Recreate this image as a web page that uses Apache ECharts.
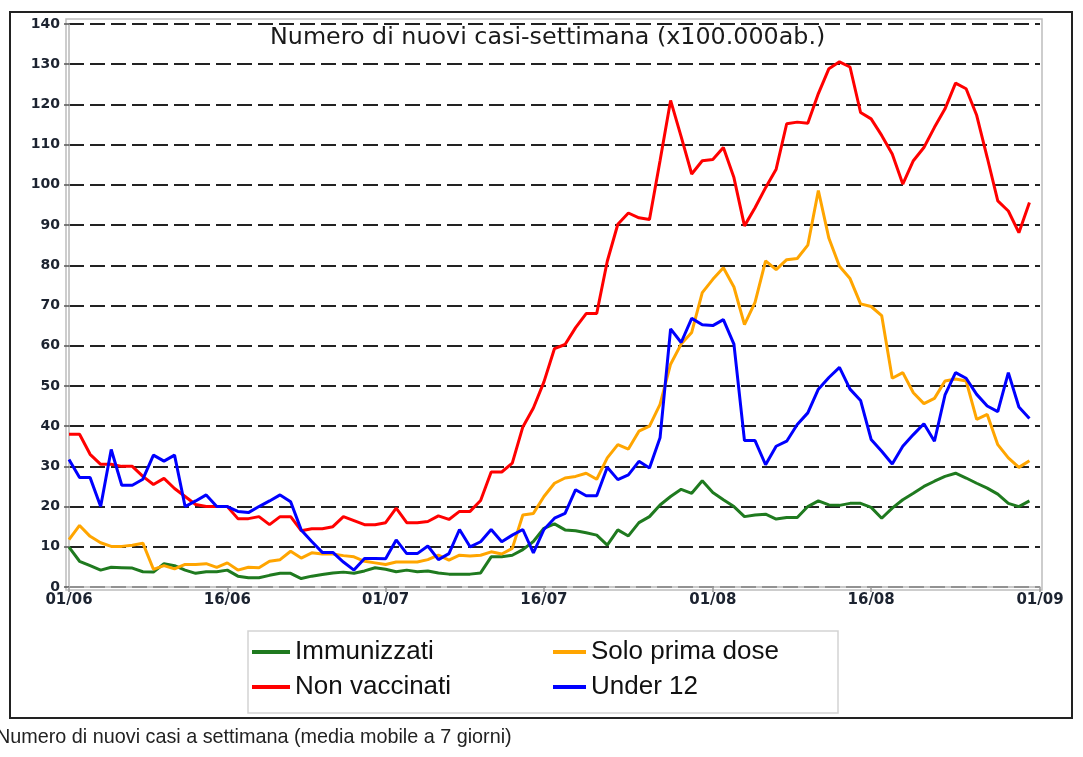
<!DOCTYPE html>
<html>
<head>
<meta charset="utf-8">
<script src="https://cdn.jsdelivr.net/npm/echarts@6.0.0/dist/echarts.min.js"></script>
<style>
html,body{margin:0;padding:0;background:#fff;}
#chart{width:1083px;height:757px;}
</style>
</head>
<body>
<div id="chart"></div>
<script>
// x tick positions (days since 01/06) and labels
const tickDays = [0, 15, 30, 45, 61, 76, 92];
const tickLabels = ['01/06', '16/06', '01/07', '16/07', '01/08', '16/08', '01/09'];
const yTicks = [0, 140, 10]; // min, max, step

// daily values from 01/06 to 31/08
const immunizzati = [
  9.9, 6.4, 5.3, 4.2, 4.9, 4.8, 4.7, 3.8, 3.7, 5.8, 5.3, 4.2, 3.4, 3.8, 3.8, 4.2, 2.7, 2.3, 2.3, 2.9, 3.4, 3.4, 2.1, 2.7, 3.1, 3.5, 3.7, 3.4, 4.0, 4.8, 4.4,
  3.8, 4.2, 3.8, 4.0, 3.5, 3.2, 3.2, 3.2, 3.5, 7.5, 7.5, 7.9, 9.3, 11.3, 14.6, 15.7, 14.2, 14.0, 13.5, 12.9, 10.4, 14.2, 12.7, 16.0, 17.5, 20.4, 22.5, 24.3, 23.3, 26.4, 23.5,
  21.7, 20.0, 17.5, 17.9, 18.1, 16.9, 17.3, 17.3, 20.0, 21.4, 20.4, 20.3, 20.8, 20.8, 19.8, 17.1, 19.6, 21.7, 23.3, 25.0, 26.3, 27.5, 28.3, 27.1, 25.8, 24.6, 23.1, 20.8, 20.0, 21.4
];
const soloPrimaDose = [
  11.8, 15.3, 12.6, 11.0, 10.1, 10.1, 10.4, 10.9, 4.4, 5.3, 4.5, 5.6, 5.6, 5.8, 4.9, 6.0, 4.2, 4.9, 4.8, 6.4, 6.8, 8.9, 7.2, 8.5, 8.2, 8.2, 7.8, 7.5, 6.4, 6.0, 5.6,
  6.2, 6.2, 6.2, 6.8, 7.9, 6.7, 7.9, 7.7, 7.9, 8.75, 8.2, 9.6, 17.9, 18.3, 22.5, 25.8, 27.1, 27.5, 28.3, 26.8, 32.1, 35.4, 34.3, 38.75, 40.0, 45.4, 55.4, 60.4, 63.3, 73.2, 76.5,
  79.4, 74.6, 65.25, 70.8, 81.1, 78.9, 81.4, 81.7, 85.0, 98.6, 86.7, 79.75, 76.7, 70.4, 69.75, 67.5, 51.9, 53.3, 48.3, 45.6, 46.9, 51.25, 51.7, 51.25, 41.7, 42.9, 35.4, 32.1, 29.75, 31.4
];
const nonVaccinati = [
  38, 38, 33, 30.5, 30.5, 30, 30, 27.5, 25.5, 27, 24.5, 22.5, 20.5, 20, 20, 20, 17, 17, 17.5, 15.5, 17.5, 17.5, 14, 14.5, 14.5, 15, 17.5, 16.5, 15.5, 15.5, 16,
  19.6, 16, 16, 16.3, 17.7, 16.8, 18.8, 18.8, 21.5, 28.6, 28.6, 30.8, 39.8, 44.5, 51, 59.3, 60.3, 64.5, 68, 68, 81, 90.2, 93, 91.8, 91.4, 106, 121, 112, 102.7, 106, 106.3,
  109.3, 101.8, 89.8, 94.3, 99.3, 103.9, 115.2, 115.6, 115.3, 122.7, 128.9, 130.6, 129.3, 118, 116.4, 112.3, 107.7, 100.2, 106, 109.3, 114.3, 118.9, 125.3, 123.9, 117.3, 106.8, 96, 93.5, 88.1, 95.6
];
const under12 = [
  31.7, 27.2, 27.2, 20, 34.2, 25.3, 25.3, 26.8, 32.8, 31.3, 32.8, 20, 21.4, 22.9, 20, 20, 18.8, 18.5, 20, 21.4, 22.9, 21.2, 14.2, 11.3, 8.6, 8.6, 6.2, 4.2, 7.1, 7.1, 7.0,
  11.7, 8.3, 8.3, 10.2, 6.8, 8.3, 14.3, 10, 11.25, 14.3, 11.25, 12.9, 14.3, 8.5, 14.3, 17.1, 18.3, 24.2, 22.7, 22.7, 29.8, 26.7, 27.9, 31.25, 29.6, 37.1, 64.2, 60.8, 66.8, 65.2, 65,
  66.5, 60.4, 36.4, 36.4, 30.4, 35, 36.25, 40.4, 43.3, 49.2, 52.1, 54.6, 49.2, 46.4, 36.7, 33.75, 30.6, 35, 37.9, 40.6, 36.25, 47.75, 53.3, 51.9, 47.9, 45, 43.6, 53.3, 44.75, 41.9
];

const seriesNames = ['Immunizzati', 'Solo prima dose', 'Non vaccinati', 'Under 12'];
const seriesColors = ['#1f7a1f', '#ffa500', '#ff0000', '#0000ff'];
const seriesValues = [immunizzati, soloPrimaDose, nonVaccinati, under12];

const chart = echarts.init(document.getElementById('chart'), null, {renderer: 'canvas'});

const series = seriesNames.map((name, k) => ({
  name: name,
  type: 'line',
  data: seriesValues[k].map((v, i) => [i, v]),
  showSymbol: false,
  lineStyle: {color: seriesColors[k], width: 3},
  itemStyle: {color: seriesColors[k]},
  animation: false,
  z: 3
}));

const legendText = {fontFamily: 'Liberation Sans', fontSize: 26, color: '#111', lineHeight: 30};

chart.setOption({
  animation: false,
  backgroundColor: '#fff',
  title: {
    text: 'Numero di nuovi casi-settimana (x100.000ab.)',
    left: 265, top: 21,
    textStyle: {fontFamily: 'DejaVu Sans', fontSize: 23.8, fontWeight: 'normal', color: '#1a1a1a'}
  },
  grid: {left: 69, right: 43, top: 24, bottom: 170},
  xAxis: {
    type: 'value', min: tickDays[0], max: tickDays[tickDays.length - 1],
    offset: 3,
    splitLine: {show: false},
    axisLine: {show: true, lineStyle: {color: '#b8b8b8', width: 1.5}},
    axisTick: {show: true, customValues: tickDays, length: 5, lineStyle: {color: '#999', width: 1.5}},
    axisLabel: {
      customValues: tickDays, showMinLabel: true, showMaxLabel: true,
      formatter: v => tickLabels[tickDays.indexOf(v)],
      margin: 3, fontFamily: 'DejaVu Sans', fontWeight: 'bold', fontSize: 15, color: '#1c2330'
    }
  },
  yAxis: {
    type: 'value', min: yTicks[0], max: yTicks[1], interval: yTicks[2],
    offset: 2,
    axisLine: {show: true, lineStyle: {color: '#b8b8b8', width: 1.5}},
    axisTick: {show: true, length: 5, lineStyle: {color: '#555', width: 1.5}},
    axisLabel: {margin: 7, fontFamily: 'DejaVu Sans', fontWeight: 'bold', fontSize: 14, color: '#1c2330'},
    splitLine: {show: true, lineStyle: {color: '#222', width: 2, type: [15, 6]}}
  },
  legend: [
    {data: ['Immunizzati', 'Non vaccinati'], orient: 'vertical', left: 247, top: 632,
     icon: 'rect', itemWidth: 38, itemHeight: 4, itemGap: 5, textStyle: legendText},
    {data: ['Solo prima dose', 'Under 12'], orient: 'vertical', left: 548, top: 632,
     icon: 'rect', itemWidth: 33, itemHeight: 4, itemGap: 5, textStyle: legendText}
  ],
  graphic: [
    {type: 'rect', shape: {x: 10, y: 12, width: 1062, height: 706}, style: {fill: 'none', stroke: '#222', lineWidth: 2}, z: 0},
    {type: 'rect', shape: {x: 66, y: 19, width: 976, height: 571}, style: {fill: 'none', stroke: '#bdbdbd', lineWidth: 1.5}, z: 0},
    {type: 'rect', shape: {x: 248, y: 631, width: 590, height: 82}, style: {fill: 'none', stroke: '#d3d3d3', lineWidth: 1.5}, z: 0},
    {type: 'text', x: -4, y: 728, style: {text: 'Numero di nuovi casi a settimana (media mobile a 7 giorni)', font: '19.8px "Liberation Sans"', fill: '#222'}, z: 5}
  ],
  series: series
});
</script>
</body>
</html>
